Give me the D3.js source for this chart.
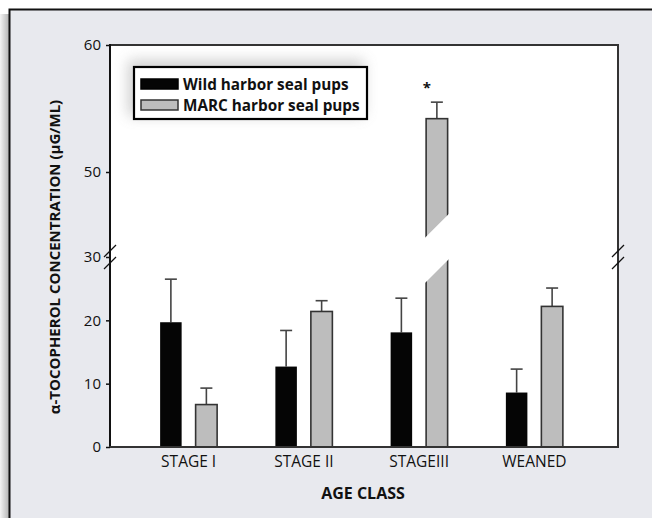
<!DOCTYPE html>
<html><head><meta charset="utf-8">
<script src="https://cdn.jsdelivr.net/npm/d3@7"></script>
<style>
html,body{margin:0;padding:0;background:#fff;}
svg{display:block;}
text{font-family:"Open Sans",sans-serif;fill:#111;}
</style></head>
<body><svg id="c" width="652" height="518"></svg>
<script>
const categories = ["STAGE I","STAGE II","STAGEIII","WEANED"];
const seriesNames = ["Wild harbor seal pups","MARC harbor seal pups"];
const wildMeans = [19.7, 12.7, 18.1, 8.6];
const wildErr   = [26.5, 18.4, 23.5, 12.3];
const marcMeans = [6.7, 21.4, 54.2, 22.2];
const marcErr   = [9.3, 23.1, 55.5, 25.1];
const lowTicks = [0,10,20,30];
const highTicks = [50,60];
const xTitle = "AGE CLASS";
const yTitle = "\u03B1-TOCOPHEROL CONCENTRATION (\u03BCG/ML)";

const svg = d3.select("#c");
const defs = svg.append("defs");
const sg = defs.append("linearGradient").attr("id","sh").attr("x1",0).attr("x2",1).attr("y1",0).attr("y2",0);
sg.append("stop").attr("offset",0).attr("stop-color","#f4f4f4");
sg.append("stop").attr("offset",1).attr("stop-color","#b4b4b4");
const lf = defs.append("filter").attr("id","blur").attr("x","-20%").attr("y","-40%").attr("width","140%").attr("height","180%");
lf.append("feGaussianBlur").attr("stdDeviation",7);

// outer panel
svg.append("rect").attr("x",0).attr("y",0).attr("width",652).attr("height",518).attr("fill","#fff");
svg.append("rect").attr("x",0).attr("y",14).attr("width",9).attr("height",504).attr("fill","url(#sh)");
svg.append("rect").attr("x",9).attr("y",9).attr("width",643).attr("height",509).attr("fill","#e8e9ee");
svg.append("path").attr("d","M9.5,518V9.5H652").attr("fill","none").attr("stroke","#111").attr("stroke-width",2);

const L=110, R=618, T=45, B=447;
const yBreak = 257;
const yLow = d3.scaleLinear().domain([0,30]).range([B, yBreak]);
const yHigh = d3.scaleLinear().domain([50,60]).range([172, T]);
const y = v => v <= 30 ? yLow(v) : yHigh(v);

const x0 = d3.scaleBand().domain(categories).range([131, 592]);
const x1 = d3.scaleBand().domain(seriesNames).range([-28.5, 28.5]).paddingInner(0.394);
const fills = ["#050505","#bdbdbd"];

// plot area
svg.append("rect").attr("x",L).attr("y",T).attr("width",R-L).attr("height",B-T).attr("fill","#fff");

// legend shadow
svg.append("rect").attr("x",128).attr("y",60).attr("width",236).attr("height",56).attr("fill","#888").attr("opacity",0.4).attr("filter","url(#blur)");

// bars
const data = categories.map((c,i)=>({c, vals:[
  {s:seriesNames[0], m:wildMeans[i], e:wildErr[i], f:fills[0]},
  {s:seriesNames[1], m:marcMeans[i], e:marcErr[i], f:fills[1]}]}));
const g = svg.append("g");
data.forEach(d=>{
  d.vals.forEach(v=>{
    const cx = x0(d.c)+x0.bandwidth()/2;
    const bx = cx + x1(v.s);
    const mid = bx + x1.bandwidth()/2;
    g.append("line").attr("x1",mid).attr("x2",mid).attr("y1",y(v.m)).attr("y2",y(v.e)).attr("stroke","#444").attr("stroke-width",1.6);
    g.append("line").attr("x1",mid-6).attr("x2",mid+6).attr("y1",y(v.e)).attr("y2",y(v.e)).attr("stroke","#444").attr("stroke-width",1.6);
    g.append("rect").attr("x",bx).attr("y",y(v.m)).attr("width",x1.bandwidth()).attr("height",B-y(v.m))
      .attr("fill",v.f).attr("stroke", v.f===fills[0]?"none":"#333").attr("stroke-width",1.6);
  });
});

// break band across the tall bar
{
  const i = 2;
  const cx = x0(categories[i])+x0.bandwidth()/2 + x1(seriesNames[1]) + x1.bandwidth()/2;
  const cy = 248.5;
  svg.append("rect").attr("x",-36).attr("y",-16).attr("width",72).attr("height",32)
    .attr("fill","#fff").attr("transform",`translate(${cx},${cy}) rotate(-45)`);
  svg.append("text").attr("x",cx-10).attr("y",yHigh(marcErr[i])-9).attr("text-anchor","middle")
    .attr("font-size",15).attr("font-weight","bold").text("*");
}

// frame
svg.append("rect").attr("x",L).attr("y",T).attr("width",R-L).attr("height",B-T).attr("fill","none").attr("stroke","#333").attr("stroke-width",2);
svg.append("line").attr("x1",L).attr("x2",L).attr("y1",T-1).attr("y2",B+1).attr("stroke","#111").attr("stroke-width",2);
svg.append("line").attr("x1",L-1).attr("x2",R+1).attr("y1",B).attr("y2",B).attr("stroke","#333").attr("stroke-width",2);

// y axes
const axL = svg.append("g").attr("transform",`translate(${L},0)`)
  .call(d3.axisLeft(yLow).tickValues(lowTicks).tickSize(4).tickPadding(5));
const axH = svg.append("g").attr("transform",`translate(${L},0)`)
  .call(d3.axisLeft(yHigh).tickValues(highTicks).tickSize(4).tickPadding(5));
[axL,axH].forEach(a=>{
  a.select(".domain").remove();
  a.selectAll("line").attr("stroke","#111").attr("stroke-width",1.5);
  a.selectAll("text").attr("font-size",15).attr("font-family","'Open Sans',sans-serif").attr("fill","#111");
});

// axis break marks
[L,R].forEach(px=>{
  [-6,6].forEach(o=>{
    svg.append("line").attr("x1",px-6).attr("x2",px+6).attr("y1",yBreak+o+6).attr("y2",yBreak+o-6)
      .attr("stroke","#111").attr("stroke-width",1.3);
  });
});

// x axis labels
const axX = svg.append("g").attr("transform",`translate(0,${B})`)
  .call(d3.axisBottom(x0).tickSize(0).tickPadding(9));
axX.select(".domain").remove();
axX.selectAll("text").attr("font-size",15.5).attr("font-family","'Open Sans',sans-serif").attr("fill","#111");

svg.append("text").attr("x",363).attr("y",499).attr("text-anchor","middle").attr("font-size",16)
  .attr("font-weight","bold").text(xTitle);
svg.append("text").attr("transform","translate(60,257) rotate(-90)").attr("text-anchor","middle")
  .attr("font-size",15).attr("font-weight","bold").text(yTitle);

// legend
const lg = svg.append("g");
lg.append("rect").attr("x",134).attr("y",67).attr("width",233).attr("height",52).attr("fill","#fff").attr("stroke","#000").attr("stroke-width",2.2);
seriesNames.forEach((s,i)=>{
  lg.append("rect").attr("x",141).attr("y",79+i*21).attr("width",37).attr("height",10)
    .attr("fill",fills[i]).attr("stroke",i?"#333":"#000").attr("stroke-width",1.5);
  lg.append("text").attr("x",183).attr("y",89.5+i*21).attr("font-size",15.3).attr("font-weight","bold").text(s);
});
</script></body></html>
